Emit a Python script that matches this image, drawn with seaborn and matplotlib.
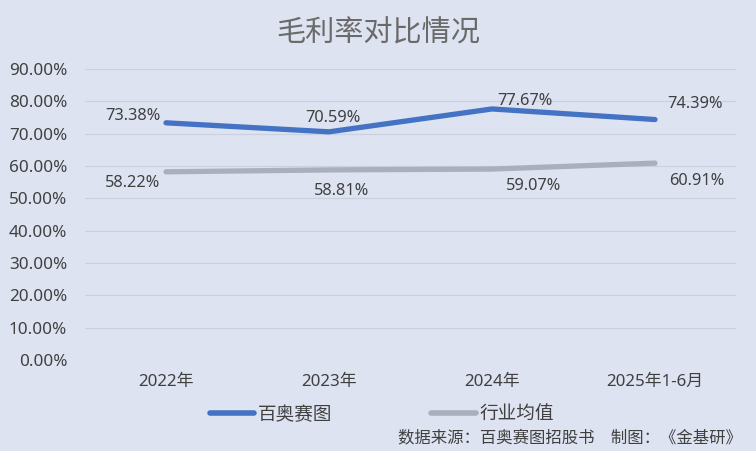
import matplotlib
matplotlib.use("Agg")
import matplotlib.pyplot as plt
import seaborn as sns
import pandas as pd
from matplotlib.ticker import FuncFormatter
from matplotlib.lines import Line2D

categories = ["2022年", "2023年", "2024年", "2025年1-6月"]
baiaosaitu = [0.7338, 0.7059, 0.7767, 0.7439]
industry_avg = [0.5822, 0.5881, 0.5907, 0.6091]
series_names = ["百奥赛图", "行业均值"]
title = "毛利率对比情况"
source = "数据来源：百奥赛图招股书\u3000制图：《金基研》"

sns.set_theme(style="white")
plt.rcParams['font.family'] = ['Noto Sans', 'Noto Sans CJK SC', 'DejaVu Sans']
cjk = ['Noto Sans CJK SC', 'DejaVu Sans']

bg = "#DDE3F1"
blue = "#4472C4"
gray = "#A9AFBC"
txt = "#404040"

df = pd.DataFrame({
    "cat": categories * 2,
    "x": list(range(len(categories))) * 2,
    "val": baiaosaitu + industry_avg,
    "series": [series_names[0]] * 4 + [series_names[1]] * 4,
})

fig = plt.figure(figsize=(7.56, 4.51), dpi=100, facecolor=bg)
ax = fig.add_axes([0.1118, 0.2018, 0.8624, 0.645])
ax.set_facecolor(bg)

sns.lineplot(data=df, x="x", y="val", hue="series", palette=[blue, gray],
             linewidth=3.8, ax=ax, legend=False, solid_capstyle="round")

ax.set_xlim(-0.5, 3.5)
ax.set_ylim(0, 0.9)
ax.set_yticks([i / 10 for i in range(10)])
ax.yaxis.set_major_formatter(FuncFormatter(lambda v, p: f"{v*100:.2f}%"))
ax.set_xticks(range(len(categories)))
ax.set_xticklabels(categories)
ax.tick_params(axis="y", length=0, pad=12.5, labelsize=12.3, labelcolor=txt)
ax.tick_params(axis="x", length=0, pad=10, labelsize=12.2, labelcolor=txt)
ax.set_xlabel("")
ax.set_ylabel("")
ax.grid(axis="y", color="#CAD0DE", linewidth=0.8)
for s in ax.spines.values():
    s.set_visible(False)

# data labels (offsets in points)
blue_off = [(-24, 5), (3, 10), (24, 6), (29, 11)]
gray_off = [(-24, -8), (9, -15), (30, -12), (30, -13)]
for i, (v, o) in enumerate(zip(baiaosaitu, blue_off)):
    ax.annotate(f"{v*100:.2f}%", (i, v), xytext=o, textcoords="offset points",
                ha="center", va="center", fontsize=11.8, color=txt)
for i, (v, o) in enumerate(zip(industry_avg, gray_off)):
    ax.annotate(f"{v*100:.2f}%", (i, v), xytext=o, textcoords="offset points",
                ha="center", va="center", fontsize=11.8, color=txt)

fig.text(0.5, 0.926, title, ha="center", va="center", fontsize=21,
         color="#6a6a6a", fontweight="light", family=cjk)

# legend
handles = [Line2D([0], [0], color=blue, lw=4), Line2D([0], [0], color=gray, lw=4)]
leg = fig.legend(handles, series_names, loc="center", bbox_to_anchor=(0.505, 0.08),
                 ncol=2, frameon=False, handlelength=2.4,
                 columnspacing=5.3, handletextpad=0.2, labelcolor=txt,
                 prop={'family': cjk, 'size': 13.4})

fig.text(0.9815, 0.0288, source, ha="right", va="center", fontsize=11.8,
         color=txt, family=cjk)

fig.savefig("out.png", dpi=100, facecolor=bg)
